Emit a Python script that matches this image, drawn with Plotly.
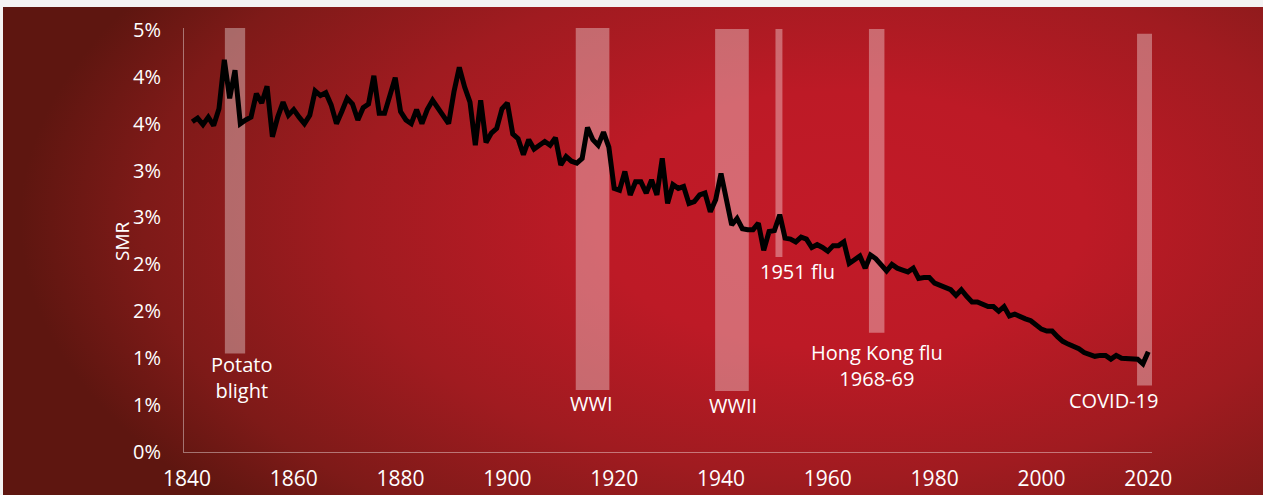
import base64
import plotly.graph_objects as go

# ---- data ----
years = list(range(1841, 2021))
smr = [
    3.52, 3.56, 3.49, 3.57, 3.48, 3.66, 4.18, 3.77, 4.07, 3.50,   # 1841-1850
    3.54, 3.57, 3.82, 3.72, 3.90, 3.36, 3.57, 3.73, 3.59, 3.65,   # 1851-1860
    3.57, 3.50, 3.59, 3.85, 3.80, 3.83, 3.70, 3.50, 3.63, 3.77,   # 1861-1870
    3.71, 3.54, 3.67, 3.71, 4.01, 3.61, 3.61, 3.79, 3.99, 3.63,   # 1871-1880
    3.54, 3.50, 3.65, 3.50, 3.65, 3.75, 3.66, 3.59, 3.50, 3.84,   # 1881-1890
    4.10, 3.89, 3.73, 3.27, 3.75, 3.30, 3.40, 3.45, 3.66, 3.72,   # 1891-1900
    3.39, 3.34, 3.17, 3.33, 3.23, 3.27, 3.31, 3.27, 3.35, 3.06,   # 1901-1910
    3.15, 3.10, 3.08, 3.13, 3.46, 3.33, 3.27, 3.41, 3.25, 2.81,   # 1911-1920
    2.79, 2.99, 2.74, 2.88, 2.88, 2.76, 2.90, 2.74, 3.13, 2.65,   # 1921-1930
    2.85, 2.81, 2.83, 2.65, 2.67, 2.74, 2.76, 2.56, 2.69, 2.97,   # 1931-1940
    2.72, 2.42, 2.49, 2.38, 2.37, 2.37, 2.44, 2.15, 2.35, 2.36,   # 1941-1950
    2.53, 2.28, 2.27, 2.24, 2.29, 2.27, 2.18, 2.21, 2.18, 2.14,   # 1951-1960
    2.20, 2.20, 2.24, 2.01, 2.05, 2.09, 1.96, 2.10, 2.06, 2.00,   # 1961-1970
    1.93, 2.00, 1.96, 1.94, 1.92, 1.96, 1.85, 1.86, 1.86, 1.80,   # 1971-1980
    1.78, 1.76, 1.73, 1.67, 1.73, 1.66, 1.60, 1.60, 1.57, 1.55,   # 1981-1990
    1.55, 1.50, 1.55, 1.45, 1.47, 1.44, 1.42, 1.40, 1.36, 1.31,   # 1991-2000
    1.29, 1.29, 1.23, 1.18, 1.15, 1.13, 1.10, 1.06, 1.04, 1.02,   # 2001-2010
    1.03, 1.03, 0.99, 1.03, 1.00, 1.00, 0.99, 0.99, 0.94, 1.07,   # 2011-2020
]

event_labels = ["Potato<br>blight", "WWI", "WWII", "1951 flu", "Hong Kong flu<br>1968-69", "COVID-19"]
event_start = [1847.1, 1912.8, 1938.9, 1950.2, 1967.7, 2017.9]
event_end = [1850.9, 1919.1, 1945.2, 1951.5, 1970.6, 2020.7]
event_low = [1.05, 0.66, 0.65, 2.08, 1.27, 0.71]
event_high = [4.52, 4.52, 4.51, 4.51, 4.51, 4.46]
label_x = [1850.2, 1915.8, 1942.2, 1954.4, 1969.2, 2013.4]
label_y = [0.79, 0.52, 0.50, 1.92, 0.92, 0.55]

y_tick_vals = [0, 0.5, 1, 1.5, 2, 2.5, 3, 3.5, 4, 4.5]
y_tick_text = ["0%", "1%", "1%", "2%", "2%", "3%", "3%", "4%", "4%", "5%"]
x_tick_vals = [1840, 1860, 1880, 1900, 1920, 1940, 1960, 1980, 2000, 2020]

# ---- layout geometry ----
W, H = 1263, 495
ML, MR, MT, MB = 184, 111, 28, 43
PW, PH = W - ML - MR, H - MT - MB

FONT = "Open Sans"

svg = f'''<svg xmlns="http://www.w3.org/2000/svg" width="{W}" height="{H}" viewBox="0 0 {W} {H}" preserveAspectRatio="none">
<defs><radialGradient id="g" gradientUnits="userSpaceOnUse" cx="0" cy="0" r="1"
 gradientTransform="matrix(820 0 0 430 840 220)">
<stop offset="0" stop-color="#c21a28"/>
<stop offset="0.3" stop-color="#bd1a26"/>
<stop offset="0.6" stop-color="#a01b20"/>
<stop offset="0.85" stop-color="#7e1a18"/>
<stop offset="1" stop-color="#5e1610"/>
</radialGradient></defs>
<rect x="0" y="0" width="{W}" height="{H}" fill="url(#g)"/>
</svg>'''
src = "data:image/svg+xml;base64," + base64.b64encode(svg.encode()).decode()

fig = go.Figure()

fig.add_trace(go.Scatter(
    x=years, y=smr, mode="lines",
    line=dict(color="#000000", width=5),
    hoverinfo="skip", showlegend=False,
))

shapes = []
for x0, x1, y0, y1 in zip(event_start, event_end, event_low, event_high):
    shapes.append(dict(type="rect", xref="x", yref="y", x0=x0, x1=x1, y0=y0, y1=y1,
                       fillcolor="rgba(255,255,255,0.35)", line=dict(width=0), layer="below"))
# screenshot top/left strips
shapes.append(dict(type="rect", xref="paper", yref="paper",
                   x0=-ML / PW, x1=(W - ML) / PW, y0=(H - MB) / PH - 7 / PH, y1=(H - MB) / PH + 1 / PH,
                   fillcolor="#f3f3f3", line=dict(width=0), layer="above"))
shapes.append(dict(type="rect", xref="paper", yref="paper",
                   x0=-ML / PW - 1 / PW, x1=-ML / PW + 3 / PW, y0=-MB / PH - 1 / PH, y1=(H - MB) / PH + 1 / PH,
                   fillcolor="#f3f3f3", line=dict(width=0), layer="above"))

annotations = []
for t, x, y in zip(event_labels, label_x, label_y):
    annotations.append(dict(text=t, x=x, y=y, xref="x", yref="y", showarrow=False,
                            font=dict(family=FONT, size=20, color="white"),
                            xanchor="center", yanchor="middle", align="center"))
annotations.append(dict(text="SMR", x=(122 - ML) / PW, y=2.25, xref="paper", yref="y",
                        showarrow=False, textangle=-90,
                        font=dict(family=FONT, size=19, color="white"),
                        xanchor="center", yanchor="middle"))

fig.update_layout(
    width=W, height=H, autosize=False,
    margin=dict(l=ML, r=MR, t=MT, b=MB, pad=0, autoexpand=False),
    paper_bgcolor="#8a1a1a", plot_bgcolor="rgba(0,0,0,0)",
    shapes=shapes, annotations=annotations,
    images=[dict(source=src, xref="paper", yref="paper",
                 x=-ML / PW, y=(H - MB) / PH, sizex=W / PW, sizey=H / PH,
                 xanchor="left", yanchor="top", sizing="stretch", layer="below")],
    xaxis=dict(range=[1839.45, 2020.7], tickvals=x_tick_vals, automargin=False,
               showgrid=False, zeroline=False, showline=True,
               linecolor="rgba(255,255,255,0.4)", linewidth=1,
               ticks="", ticklabelstandoff=8,
               tickfont=dict(family=FONT, size=21, color="white")),
    yaxis=dict(range=[0, 4.52], tickvals=y_tick_vals, ticktext=y_tick_text, automargin=False,
               showgrid=False, zeroline=False, showline=True,
               linecolor="rgba(255,255,255,0.4)", linewidth=1,
               ticks="", ticklabelstandoff=18,
               tickfont=dict(family=FONT, size=20, color="white")),
)

fig.write_html(
    "out.html",
    config={"displayModeBar": False},
    post_script="document.body.style.margin='0';document.body.style.overflow='hidden';",
)
